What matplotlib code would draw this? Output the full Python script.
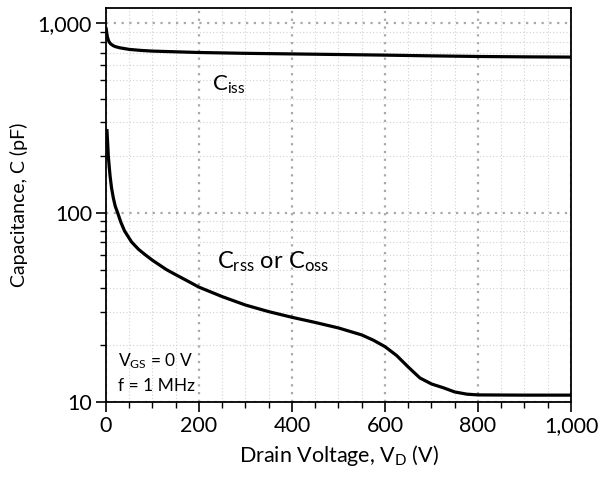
import numpy as np
import matplotlib
matplotlib.use("Agg")
import matplotlib.pyplot as plt
from matplotlib.ticker import FuncFormatter, MultipleLocator, LogLocator, NullFormatter

plt.rcParams['font.family'] = ['Lato', 'DejaVu Sans']
plt.rcParams['mathtext.default'] = 'regular'

# Ciss curve (pF) vs drain voltage (V)
ciss_v = [0, 1, 2, 3, 5, 7, 10, 15, 20, 30, 50, 75, 100, 200, 300, 400, 500, 600, 700, 800, 900, 1000]
ciss_c = [950, 915, 880, 850, 815, 795, 778, 762, 752, 741, 727, 718, 712, 700, 693, 688, 683, 678, 672, 667, 664, 662]

# Crss / Coss curve (pF) vs drain voltage (V)
crss_v = [2, 4, 5, 7, 9, 12, 16, 20, 25, 32, 40, 55, 70, 84, 100, 130, 150, 175, 200, 250, 300, 350, 400, 450,
          500, 550, 575, 600, 625, 650, 675, 700, 725, 750, 776, 800, 900, 1000]
crss_c = [276, 225, 200, 175, 155, 135, 119, 108, 100, 89, 80, 70, 64, 60, 56, 50, 47.0, 43.6, 40.4, 36, 32.5, 30, 28.0, 26.3,
          24.6, 22.6, 21.2, 19.6, 17.6, 15.3, 13.4, 12.45, 11.9, 11.3, 11.0, 10.9, 10.87, 10.87]

fig = plt.figure(figsize=(6.02, 4.8), dpi=100)
ax = fig.add_axes([0.176, 0.1625, 0.7725, 0.8205])

ax.plot(ciss_v, ciss_c, color='black', lw=2.3, solid_capstyle='butt', solid_joinstyle='round')
ax.plot(crss_v, crss_c, color='black', lw=2.3, solid_capstyle='butt', solid_joinstyle='round')

ax.set_yscale('log')
ax.set_xlim(0, 1000)
ax.set_ylim(10, 1200)

ax.xaxis.set_major_locator(MultipleLocator(200))
ax.xaxis.set_minor_locator(MultipleLocator(50))
ax.yaxis.set_major_locator(LogLocator(base=10, numticks=10))
ax.yaxis.set_minor_locator(LogLocator(base=10, subs=np.arange(2, 10), numticks=20))
ax.yaxis.set_minor_formatter(NullFormatter())
fmt = FuncFormatter(lambda v, p: f"{v:,.0f}")
ax.xaxis.set_major_formatter(fmt)
ax.yaxis.set_major_formatter(fmt)

ax.grid(which='major', color='#a8a8a8', linestyle=(0, (1, 2.5)), lw=1.6)
ax.grid(which='minor', color='#d2d2d2', linestyle=(0, (1, 2)), lw=0.8)
ax.set_axisbelow(True)

ax.tick_params(which='major', direction='out', length=7, width=1.2, labelsize=15.5, pad=3)
ax.tick_params(which='minor', direction='out', length=4.5, width=1.0)
for s in ax.spines.values():
    s.set_linewidth(1.3)

ax.set_xlabel('Drain Voltage, V$_D$ (V)', fontsize=15.5, labelpad=5)
ax.set_ylabel('Capacitance, C (pF)', fontsize=14, labelpad=7)

ax.text(265, 470, 'C$_{iss}$', fontsize=16, ha='center', va='center')
ax.text(360, 54.8, 'C$_{rss}$ or C$_{oss}$', fontsize=17, ha='center', va='center')
ax.text(25, 16.4, 'V$_{GS}$ = 0 V', fontsize=12.5, ha='left', va='center')
ax.text(25, 12.2, 'f = 1 MHz', fontsize=12.5, ha='left', va='center')

fig.savefig('out.png', dpi=100)
